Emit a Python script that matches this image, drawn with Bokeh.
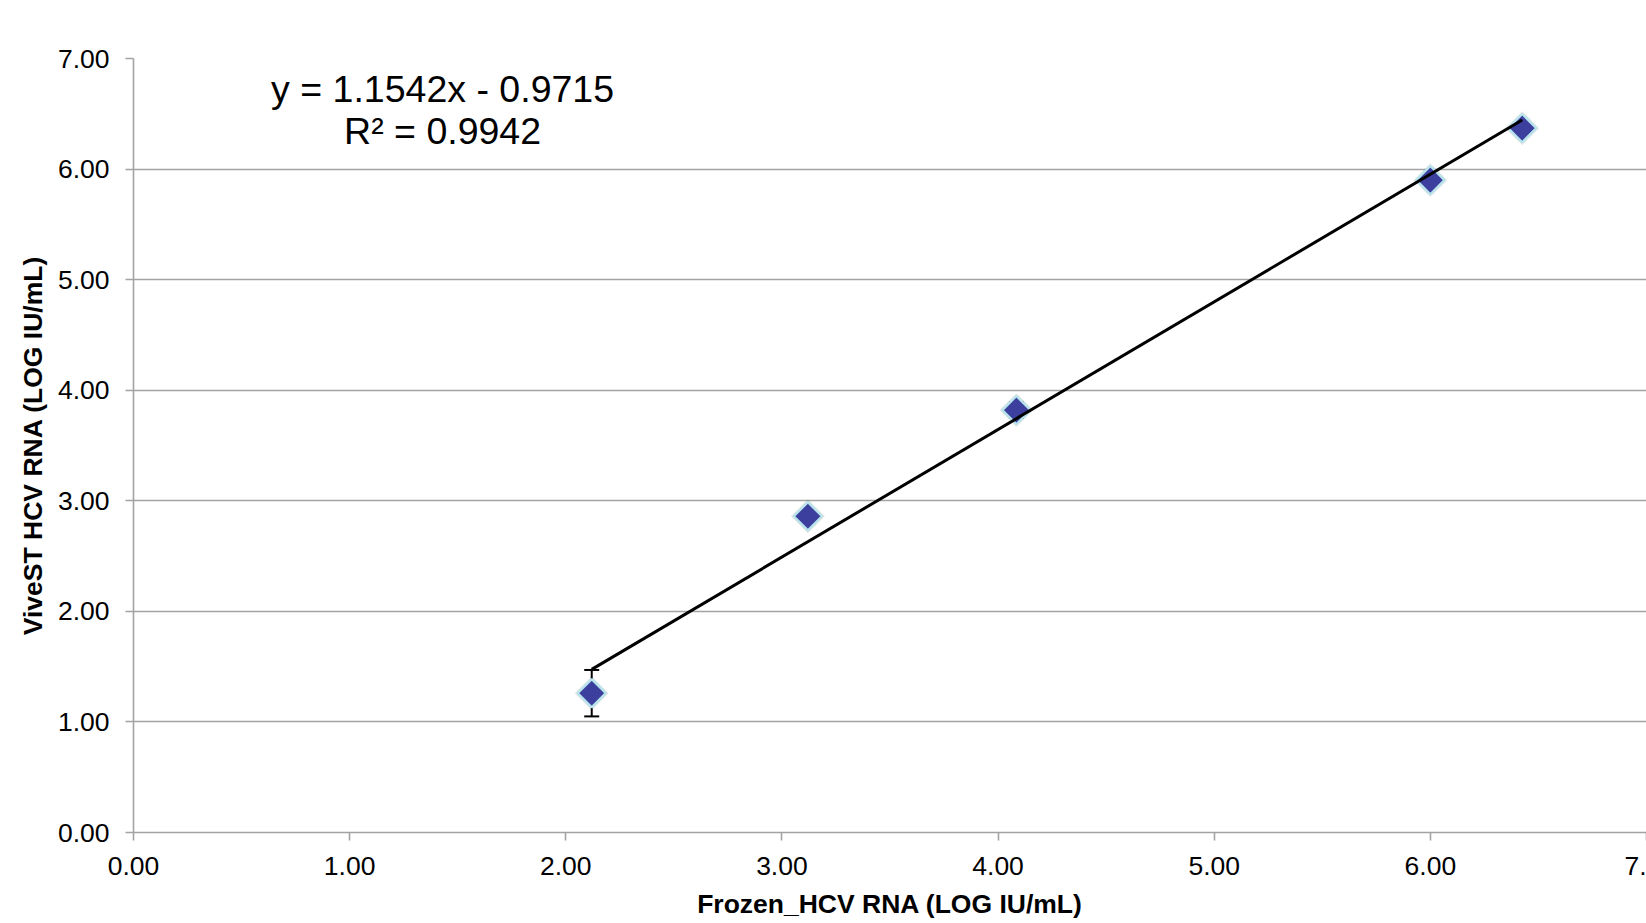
import numpy as np
from bokeh.plotting import figure
from bokeh.models import (ColumnDataSource, Whisker, TeeHead, FixedTicker,
                          NumeralTickFormatter, Label, Range1d)
from bokeh.embed import file_html
from bokeh.resources import INLINE

# ---- data ----
frozen = [2.12, 3.12, 4.085, 6.00, 6.425]
vivest = [1.26, 2.86, 3.82, 5.90, 6.37]
err = [0.21, 0.0, 0.07, 0.0, 0.0]
slope = 1.1542
intercept = -0.9715
r2 = 0.9942
x_ticks = [0, 1, 2, 3, 4, 5, 6, 7]
y_ticks = [0, 1, 2, 3, 4, 5, 6, 7]

FONT = "Liberation Sans"
GRID = "#a3a3a3"

p = figure(width=1646, height=923, output_backend="svg", toolbar_location=None,
           x_range=Range1d(0, 7), y_range=Range1d(0, 7),
           min_border_left=133, min_border_right=0, min_border_top=58,
           min_border_bottom=91)
p.outline_line_color = None
p.background_fill_color = "white"
p.border_fill_color = "white"

src = ColumnDataSource(dict(
    x=frozen, y=vivest,
    lo=[v - e for v, e in zip(vivest, err)],
    hi=[v + e for v, e in zip(vivest, err)],
))

# grid
p.xgrid.grid_line_color = None
p.ygrid.grid_line_color = GRID
p.ygrid.grid_line_width = 1.6
p.ygrid.ticker = FixedTicker(ticks=y_ticks)

# axes
for ax in (p.xaxis[0], p.yaxis[0]):
    ax.axis_line_color = GRID
    ax.axis_line_width = 1.6
    ax.major_tick_line_color = GRID
    ax.major_tick_line_width = 1.6
    ax.major_tick_out = 8
    ax.major_tick_in = 0
    ax.minor_tick_line_color = None
    ax.major_label_text_font = FONT
    ax.major_label_text_font_size = "26.5px"
    ax.major_label_text_color = "black"
    ax.axis_label_text_font = FONT
    ax.axis_label_text_font_size = "26.5px"
    ax.axis_label_text_font_style = "bold"
    ax.axis_label_text_color = "black"
    ax.formatter = NumeralTickFormatter(format="0.00")

p.xaxis.ticker = FixedTicker(ticks=x_ticks)
p.yaxis.ticker = FixedTicker(ticks=y_ticks)
# last x tick label is cut by the right edge in the reference
p.xaxis.major_label_overrides = {7: "7."}
p.xaxis.axis_label = "Frozen_HCV RNA (LOG IU/mL)"
p.yaxis.axis_label = "ViveST HCV RNA (LOG IU/mL)"
p.xaxis.major_label_standoff = 16
p.xaxis.axis_label_standoff = 11
p.yaxis.major_label_standoff = 16
p.yaxis.axis_label_standoff = 7

# error bars (behind markers)
wk = Whisker(base="x", upper="hi", lower="lo", source=src, dimension="height",
             line_color="black", line_width=2, level="underlay",
             upper_head=TeeHead(size=15, line_color="black", line_width=2),
             lower_head=TeeHead(size=15, line_color="black", line_width=2))
p.add_layout(wk)

# subtle shadow + markers
p.scatter("x", "y", source=src, marker="square", size=24, angle=np.pi / 4,
          fill_color="black", fill_alpha=0.10, line_color=None)
p.scatter("x", "y", source=src, marker="square", size=20, angle=np.pi / 4,
          fill_color="#3d3f9e", line_color="#b8e4ec", line_width=2.4)

# trend line
xmin, xmax = min(frozen), max(frozen)
tx = [xmin, xmax]
ty = [slope * v + intercept for v in tx]
p.line(tx, ty, line_color="black", line_width=3)

# equation labels
eq1 = f"y = {slope:.4f}x - {abs(intercept):.4f}"
eq2 = f"R² = {r2:.4f}"
p.add_layout(Label(x=1.43, y=6.72, text=eq1, text_align="center",
                   text_baseline="middle", text_font=FONT,
                   text_font_size="37.5px", text_color="black"))
p.add_layout(Label(x=1.43, y=6.34, text=eq2, text_align="center",
                   text_baseline="middle", text_font=FONT,
                   text_font_size="37.5px", text_color="black"))

open("out.html", "w").write(file_html(p, INLINE))
